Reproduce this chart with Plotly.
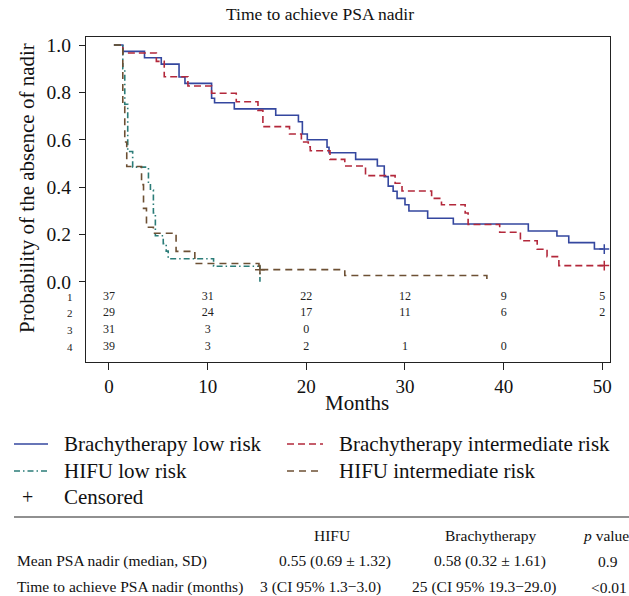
import plotly.graph_objects as go

# ---------------- data ----------------
bl_t = [0.5, 1.4, 3.6, 5.3, 7.1, 7.7, 10.4, 10.7, 12.7, 16.9, 19.2, 19.6, 20.1, 22.1, 22.3, 25.0, 27.2,
        27.9, 28.3, 28.8, 29.2, 30.0, 30.4, 32.3, 34.9, 42.5, 45.4, 46.6, 49.2, 50.1]
bl_s = [1.0, 0.973, 0.946, 0.919, 0.865, 0.838, 0.775, 0.756, 0.730, 0.703, 0.676, 0.624, 0.600, 0.568,
        0.545, 0.517, 0.489, 0.444, 0.404, 0.382, 0.352, 0.325, 0.299, 0.268, 0.244, 0.214, 0.193, 0.165,
        0.138, 0.138]

bi_t = [0.5, 1.4, 4.8, 5.6, 8.0, 10.4, 12.9, 15.1, 15.6, 18.3, 19.5, 20.2, 20.4, 22.4, 23.9, 26.0, 29.0,
        29.7, 32.7, 33.7, 36.1, 36.4, 39.6, 41.7, 43.4, 44.4, 45.6, 50.1]
bi_s = [1.0, 0.966, 0.931, 0.866, 0.827, 0.796, 0.760, 0.724, 0.655, 0.624, 0.590, 0.570, 0.553, 0.517,
        0.489, 0.448, 0.416, 0.383, 0.352, 0.325, 0.290, 0.242, 0.209, 0.173, 0.137, 0.106, 0.068, 0.068]

hl_t = [0.5, 1.4, 1.6, 1.9, 2.4, 4.0, 4.2, 4.5, 4.7, 5.5, 5.8, 6.0, 10.6, 15.3]
hl_s = [1.0, 0.90, 0.75, 0.55, 0.484, 0.42, 0.387, 0.29, 0.194, 0.161, 0.129, 0.097, 0.065, 0.0]

hi_t = [0.5, 1.4, 1.6, 1.8, 3.3, 3.5, 3.8, 4.5, 6.8, 8.7, 15.2, 23.9, 38.3]
hi_s = [1.0, 0.74, 0.59, 0.487, 0.41, 0.31, 0.23, 0.205, 0.128, 0.077, 0.051, 0.026, 0.0]

cens_t = [50.2, 50.2, 15.3]
cens_s = [0.138, 0.068, 0.051]

risk_times = [0, 10, 20, 30, 40, 50]
risk_rows = [
    ["37", "31", "22", "12", "9", "5"],
    ["29", "24", "17", "11", "6", "2"],
    ["31", "3", "0", "", "", ""],
    ["39", "3", "2", "1", "0", ""],
]
risk_labels = ["1", "2", "3", "4"]

x_ticks = [0, 10, 20, 30, 40, 50]
y_ticks = [0.0, 0.2, 0.4, 0.6, 0.8, 1.0]

series_names = ["Brachytherapy low risk", "Brachytherapy intermediate risk",
                "HIFU low risk", "HIFU intermediate risk"]

table_header = ["HIFU", "Brachytherapy", "<i>p</i> value"]
table_rows = [
    ["Mean PSA nadir (median, SD)", "0.55 (0.69 ± 1.32)", "0.58 (0.32 ± 1.61)", "0.9"],
    ["Time to achieve PSA nadir (months)", "3 (CI 95% 1.3\u22123.0)", "25 (CI 95% 19.3\u221229.0)", "<0.01"],
]

# ---------------- style ----------------
FONT = "Liberation Serif"
C_BL = "#34479f"
C_BI = "#b3283b"
C_HL = "#2b7c78"
C_HI = "#6d5034"
D_BI = "7px,4px"
D_HL = "6px,3px,1.5px,3px"
D_HI = "7px,5px"

W, H = 629, 596
ML, MR, MT, MB = 86, 19, 37, 234
PW, PH = W - ML - MR, H - MT - MB


def px_x(px):
    return (px - ML) / PW


def px_y(py):
    return (H - MB - py) / PH


def note(px, py, text, size, xanchor="center", **kw):
    return dict(x=px_x(px), y=px_y(py), xref="paper", yref="paper", text=text, showarrow=False,
                xanchor=xanchor, yanchor="middle", font=dict(family=FONT, size=size, color="#111"), **kw)


fig = go.Figure()
for t, s, c, d, nm in [(bl_t, bl_s, C_BL, "solid", series_names[0]),
                        (bi_t, bi_s, C_BI, D_BI, series_names[1]),
                        (hl_t, hl_s, C_HL, D_HL, series_names[2]),
                        (hi_t, hi_s, C_HI, D_HI, series_names[3])]:
    fig.add_trace(go.Scatter(x=t, y=s, mode="lines", line=dict(color=c, width=1.6, dash=d, shape="hv"),
                             name=nm, showlegend=False, hoverinfo="skip"))

fig.add_trace(go.Scatter(x=cens_t, y=cens_s, mode="markers",
                         marker=dict(symbol="cross-thin", size=7,
                                     line=dict(width=1.5, color=[C_BL, C_BI, C_HI])),
                         showlegend=False, hoverinfo="skip"))

# at-risk numbers
risk_y = [-0.064, -0.132, -0.204, -0.276]
for row, yv in zip(risk_rows, risk_y):
    fig.add_trace(go.Scatter(x=risk_times, y=[yv] * len(risk_times), mode="text", text=row,
                             textfont=dict(family=FONT, size=12, color="#222"),
                             showlegend=False, hoverinfo="skip", cliponaxis=False))

ann = []
for lab, yv in zip(risk_labels, risk_y):
    ann.append(dict(x=px_x(70), y=yv, xref="paper", yref="y", text=lab, showarrow=False,
                    xanchor="center", yanchor="middle",
                    font=dict(family=FONT, size=11, color="#222")))

# title, axis titles
ann.append(note(320, 14, "Time to achieve PSA nadir", 17.5))
ann.append(note(357, 403, "Months", 21))
ann.append(note(27, 188, "Probability of the absence of nadir", 21, textangle=-90))

# legend
shapes = []
leg = [(14, 48, 444, C_BL, "solid", series_names[0], 62),
       (287, 323, 444, C_BI, D_BI, series_names[1], 337),
       (14, 48, 471, C_HL, D_HL, series_names[2], 62),
       (287, 323, 471, C_HI, D_HI, series_names[3], 337)]
for x0, x1, yy, c, d, nm, tx in leg:
    shapes.append(dict(type="line", xref="paper", yref="paper", x0=px_x(x0), x1=px_x(x1),
                       y0=px_y(yy), y1=px_y(yy), line=dict(color=c, width=1.5, dash=d)))
    ann.append(note(tx, yy, nm, 21, xanchor="left"))
ann.append(note(27, 497, "+", 20))
ann.append(note(62, 497, "Censored", 21, xanchor="left"))

# table
shapes.append(dict(type="line", xref="paper", yref="paper", x0=px_x(14), x1=px_x(629),
                   y0=px_y(517), y1=px_y(517), line=dict(color="#222", width=1.2)))
col_x = [332, 490, 606]
for txt, cx in zip(table_header, col_x):
    ann.append(note(cx, 535, txt, 15.5))
row_y = [561, 587]
row_cx = [[335, 490, 608], [320, 484, 609]]
for r, yy, cxs in zip(table_rows, row_y, row_cx):
    ann.append(note(15, yy, r[0], 15.5, xanchor="left"))
    for txt, cx in zip(r[1:], cxs):
        ann.append(note(cx, yy, txt, 15.5))

fig.update_layout(
    width=W, height=H, margin=dict(l=ML, r=MR, t=MT, b=MB, autoexpand=False),
    plot_bgcolor="white", paper_bgcolor="white",
    annotations=ann, shapes=shapes, showlegend=False,
    font=dict(family=FONT, color="#111"),
)
fig.update_xaxes(range=[-2.33, 50.78], tickvals=x_ticks, ticks="outside", ticklen=7, tickwidth=1.2,
                 tickcolor="#222", showline=True, linecolor="#222", linewidth=1.3, mirror=True,
                 showgrid=False, zeroline=False, tickfont=dict(family=FONT, size=19, color="#111"))
fig.update_yaxes(range=[-0.3392, 1.0338], tickvals=y_ticks, tickformat=".1f", ticks="outside", ticklen=6,
                 tickwidth=1.2, tickcolor="#222", showline=True, linecolor="#222", linewidth=1.3, mirror=True,
                 showgrid=False, zeroline=False, ticklabelstandoff=4,
                 tickfont=dict(family=FONT, size=19.5, color="#111"))

fig.write_html("out.html")
